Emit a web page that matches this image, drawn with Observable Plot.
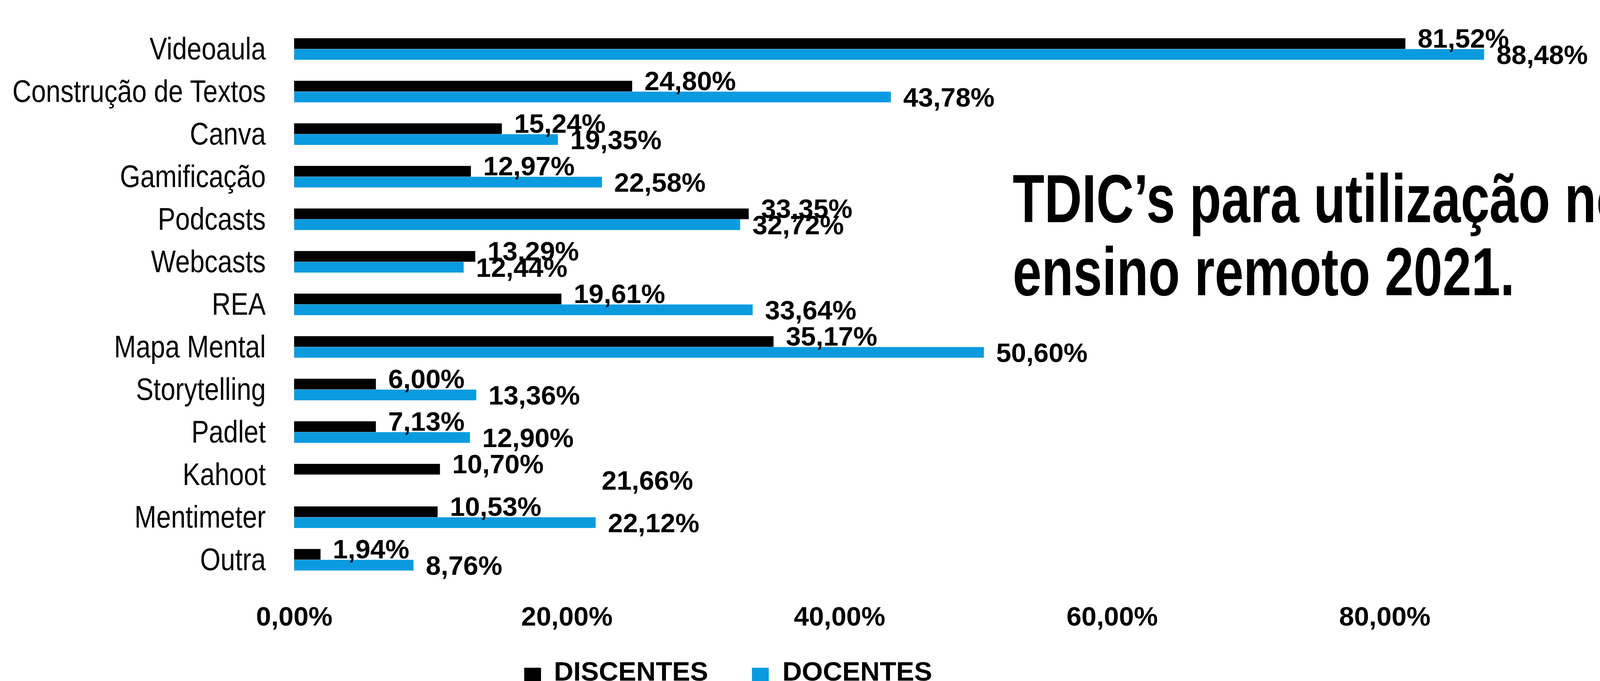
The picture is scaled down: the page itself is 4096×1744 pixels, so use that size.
<!DOCTYPE html>
<html>
<head>
<meta charset="utf-8">
<script src="https://cdn.jsdelivr.net/npm/d3@7"></script>
<script src="https://cdn.jsdelivr.net/npm/@observablehq/plot@0.6"></script>
<style>
  html, body { margin: 0; padding: 0; background: #fff; overflow: hidden; }
  #wrap { position: relative; width: 4096px; height: 1744px; overflow: hidden; background: #fff; }
  #chart { position: absolute; left: 0; top: 0; }
  #legend { position: absolute; left: 0; top: 1660px; }
</style>
</head>
<body>
<div id="wrap"><div id="chart"></div><div id="legend"></div></div>
<script>
// ---- data ----
const ferramentas = ["Videoaula", "Construção de Textos", "Canva", "Gamificação", "Podcasts", "Webcasts", "REA", "Mapa Mental", "Storytelling", "Padlet", "Kahoot", "Mentimeter", "Outra"];
// value labels
const discentes = [81.52, 24.80, 15.24, 12.97, 33.35, 13.29, 19.61, 35.17, 6.00, 7.13, 10.70, 10.53, 1.94];
const docentes  = [88.48, 43.78, 19.35, 22.58, 32.72, 12.44, 33.64, 50.60, 13.36, 12.90, 21.66, 22.12, 8.76];
// bar lengths as drawn in the picture (Padlet discentes bar drawn short, Kahoot docentes bar absent)
const discentesBarra = [81.52, 24.80, 15.24, 12.97, 33.35, 13.29, 19.61, 35.17, 6.00, 6.00, 10.70, 10.53, 1.94];
const docentesBarra  = [87.30, 43.78, 19.35, 22.58, 32.72, 12.44, 33.64, 50.60, 13.36, 12.90, null, 22.12, 8.76];
const eixoTicks = [0, 20, 40, 60, 80];
const series = ["DISCENTES", "DOCENTES"];
const cores = ["#000000", "#0A9BDF"];
const titulo = ["TDIC\u2019s para utilização no", "ensino remoto 2021."];

// ---- layout ----
const W = 4096, H = 1660;
const mL = 752.9, mT = 68.6, mB = 169.2;
const step = (H - mT - mB) / ferramentas.length;
const barH = 27.8;
const fmt = v => v.toFixed(2).replace(".", ",") + "%";
const sans = "'Liberation Sans', Arial, Helvetica, sans-serif";

const rows = ferramentas.map((f, i) => ({
  f, dis: discentes[i], doc: docentes[i], disB: discentesBarra[i], docB: docentesBarra[i]
}));

const plot = Plot.plot({
  width: W, height: H,
  marginLeft: mL, marginRight: 0, marginTop: mT, marginBottom: mB,
  x: { domain: [0, 95.8] },
  y: { domain: ferramentas, padding: 0 },
  style: { background: "white", color: "black", fontFamily: sans, overflow: "visible" },
  marks: [
    Plot.barX(rows.filter(d => d.disB != null), {
      x: "disB", y: "f", fill: cores[0],
      insetTop: step / 2 - barH, insetBottom: step / 2
    }),
    Plot.barX(rows.filter(d => d.docB != null), {
      x: "docB", y: "f", fill: cores[1],
      insetTop: step / 2, insetBottom: step / 2 - barH
    }),
    Plot.text(rows, {
      x: d => d.disB ?? d.dis, y: "f", text: d => fmt(d.dis), dx: 31, dy: -4,
      textAnchor: "start", lineAnchor: "bottom",
      fontSize: 69, fontWeight: "bold", fill: "#000"
    }),
    Plot.text(rows, {
      x: d => d.docB ?? d.doc, y: "f", text: d => fmt(d.doc), dx: 31, dy: 38,
      textAnchor: "start", lineAnchor: "bottom",
      fontSize: 69, fontWeight: "bold", fill: "#000"
    }),
    Plot.axisX({
      ticks: eixoTicks, tickFormat: fmt, tickSize: 0, tickPadding: 62,
      label: null, fontSize: 69, fontWeight: "bold"
    }),
    Plot.axisY({
      tickSize: 0, tickPadding: 73, label: null, fontSize: 80
    }),
    Plot.text([titulo[0]], {
      frameAnchor: "top-left", text: d => d, dx: 2592 - mL, dy: 568.5 - mT,
      textAnchor: "start", lineAnchor: "bottom",
      fontSize: 175, fontWeight: "bold", fill: "#000"
    }),
    Plot.text([titulo[1]], {
      frameAnchor: "top-left", text: d => d, dx: 2592 - mL, dy: 755.5 - mT,
      textAnchor: "start", lineAnchor: "bottom",
      fontSize: 175, fontWeight: "bold", fill: "#000"
    })
  ]
});
document.getElementById("chart").appendChild(plot);

// narrow (condensed) faces are not installed: condense the glyphs to the reference's widths
const texts = Array.from(plot.querySelectorAll("text"));
const condense = (el, len) => {
  el.setAttribute("textLength", len.toFixed(1));
  el.setAttribute("lengthAdjust", "spacingAndGlyphs");
};
const t1 = texts.find(t => t.textContent === titulo[0]);
const t2 = texts.find(t => t.textContent === titulo[1]);
if (t1 && t2) {
  const L1 = t1.getComputedTextLength(), L2 = t2.getComputedTextLength();
  const k = 1285 / L2;
  condense(t1, L1 * k);
  condense(t2, 1285);
}
const nomes = new Set(ferramentas);
texts.filter(t => nomes.has(t.textContent)).forEach(t => {
  condense(t, t.getComputedTextLength() * 0.84);
});

// ---- legend (below the chart) ----
const leg = d3.select("#legend").append("svg")
  .attr("width", W).attr("height", 84)
  .style("overflow", "visible")
  .style("font-family", sans);
const legX = [[1342, 1418], [1925, 2003]];
series.forEach((s, i) => {
  leg.append("rect").attr("x", legX[i][0]).attr("y", 50).attr("width", 43).attr("height", 43).attr("fill", cores[i]);
  leg.append("text").attr("x", legX[i][1]).attr("y", 83)
    .attr("font-size", 69).attr("font-weight", "bold").attr("fill", "#000").text(s);
});
</script>
</body>
</html>
